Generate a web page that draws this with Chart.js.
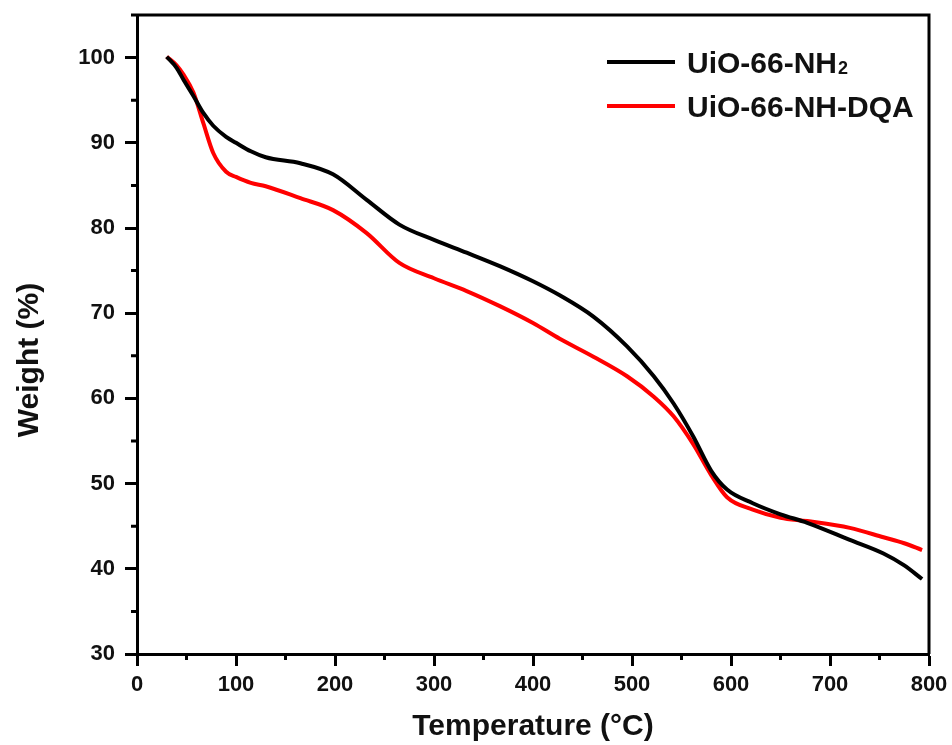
<!DOCTYPE html>
<html>
<head>
<meta charset="utf-8">
<script src="https://cdn.jsdelivr.net/npm/chart.js@4.4.1/dist/chart.umd.min.js"></script>
<style>
  html, body { margin: 0; background: #fff; }
</style>
</head>
<body>
<canvas id="chart" width="952" height="745"></canvas>
<script>
// TGA curves (temperature in °C, weight in %)
const temps = [30, 40, 47, 57, 67, 77, 90, 100, 115, 130, 165, 198, 232, 265, 300, 333,
               367, 400, 427, 461, 495, 522, 542, 562, 580, 596, 622, 650, 677, 720, 754, 775, 793];
const weightNH2 = [100.1, 98.8, 97.4, 95.5, 93.5, 92.0, 90.7, 90.0, 89.0, 88.3, 87.6, 86.3, 83.3, 80.4,
                   78.6, 77.1, 75.5, 73.75, 72.1, 69.6, 66.1, 62.6, 59.4, 55.5, 51.5, 49.3, 47.7,
                   46.4, 45.4, 43.4, 41.8, 40.4, 38.8];
const weightDQA = [100.1, 99.1, 98.0, 95.9, 92.3, 88.8, 86.6, 86.0, 85.3, 84.9, 83.5, 82.1, 79.4, 75.9,
                   74.1, 72.6, 70.8, 68.85, 67.0, 64.9, 62.6, 60.2, 57.9, 54.6, 51.0, 48.4, 46.95,
                   46.0, 45.6, 44.8, 43.7, 43.0, 42.2];

const seriesNames = ["UiO-66-NH₂", "UiO-66-NH-DQA"];
const seriesColors = ["#000000", "#ff0000"];

const xTicks = [0, 100, 200, 300, 400, 500, 600, 700, 800];
const xMinorTicks = [50, 150, 250, 350, 450, 550, 650, 750];
const yTicks = [30, 40, 50, 60, 70, 80, 90, 100];
const yMinorTicks = [35, 45, 55, 65, 75, 85, 95, 105];

const FONT = "'Liberation Sans', Arial, sans-serif";
const INK = "#111";

function points(ys) {
  return temps.map((t, i) => ({ x: t, y: ys[i] }));
}

// frame, minor ticks, y title and in-plot legend
const decorations = {
  id: "decorations",
  afterDraw(chart) {
    const { ctx, chartArea: a, scales } = chart;
    ctx.save();
    ctx.strokeStyle = "#000";
    ctx.lineWidth = 3;
    ctx.beginPath();
    ctx.moveTo(a.left, a.top);
    ctx.lineTo(a.right, a.top);
    ctx.lineTo(a.right, a.bottom);
    ctx.stroke();

    ctx.beginPath();
    xMinorTicks.forEach(v => {
      const px = scales.x.getPixelForValue(v);
      ctx.moveTo(px, a.bottom);
      ctx.lineTo(px, a.bottom + 6);
    });
    yMinorTicks.forEach(v => {
      const py = scales.y.getPixelForValue(v);
      ctx.moveTo(a.left, py);
      ctx.lineTo(a.left - 6, py);
    });
    ctx.stroke();

    // y axis title
    ctx.fillStyle = INK;
    ctx.font = "bold 30px " + FONT;
    ctx.textAlign = "center";
    ctx.textBaseline = "middle";
    ctx.translate(30, 360);
    ctx.rotate(-Math.PI / 2);
    ctx.fillText("Weight (%)", 0, 0);
    ctx.restore();

    // legend
    ctx.save();
    chart.data.datasets.forEach((ds, i) => {
      const y = 62 + i * 44;
      ctx.strokeStyle = ds.borderColor;
      ctx.lineWidth = 4;
      ctx.beginPath();
      ctx.moveTo(607, y);
      ctx.lineTo(675, y);
      ctx.stroke();

      ctx.fillStyle = INK;
      ctx.textAlign = "left";
      ctx.textBaseline = "alphabetic";
      const parts = ds.label.split("₂");
      ctx.font = "bold 30px " + FONT;
      ctx.fillText(parts[0], 687, y + 11);
      if (parts.length > 1) {
        const w = ctx.measureText(parts[0]).width;
        ctx.font = "bold 18px " + FONT;
        ctx.fillText("2", 687 + w + 1, y + 12);
      }
    });
    ctx.restore();
  }
};

new Chart(document.getElementById("chart").getContext("2d"), {
  type: "line",
  data: {
    datasets: [
      { label: seriesNames[0], data: points(weightNH2), borderColor: seriesColors[0] },
      { label: seriesNames[1], data: points(weightDQA), borderColor: seriesColors[1] }
    ]
  },
  options: {
    responsive: false,
    animation: false,
    devicePixelRatio: 1,
    layout: { padding: { top: 15, right: 23, left: 0, bottom: 0 } },
    elements: {
      line: { borderWidth: 4, cubicInterpolationMode: "monotone", fill: false },
      point: { radius: 0 }
    },
    plugins: {
      legend: { display: false },
      tooltip: { enabled: false }
    },
    scales: {
      x: {
        type: "linear",
        min: 0,
        max: 800,
        afterBuildTicks: s => { s.ticks = xTicks.map(v => ({ value: v })); },
        afterFit: s => { s.height = 91; s.paddingLeft = 0; s.paddingRight = 0; },
        ticks: { color: INK, font: { family: FONT, size: 22, weight: "bold" }, padding: 6, maxRotation: 0 },
        grid: { drawOnChartArea: false, tickLength: 12, tickWidth: 3, tickColor: "#000" },
        border: { color: "#000", width: 3 },
        title: {
          display: true,
          text: "Temperature (°C)",
          color: INK,
          font: { family: FONT, size: 30, weight: "bold" },
          padding: { top: 0, bottom: 0 }
        }
      },
      y: {
        type: "linear",
        min: 30,
        max: 105,
        afterBuildTicks: s => { s.ticks = yTicks.map(v => ({ value: v })); },
        afterFit: s => { s.width = 137; s.paddingTop = 0; s.paddingBottom = 0; },
        ticks: { color: INK, font: { family: FONT, size: 22, weight: "bold" }, padding: 10 },
        grid: { drawOnChartArea: false, tickLength: 12, tickWidth: 3, tickColor: "#000" },
        border: { color: "#000", width: 3 }
      }
    }
  },
  plugins: [decorations]
});
</script>
</body>
</html>
